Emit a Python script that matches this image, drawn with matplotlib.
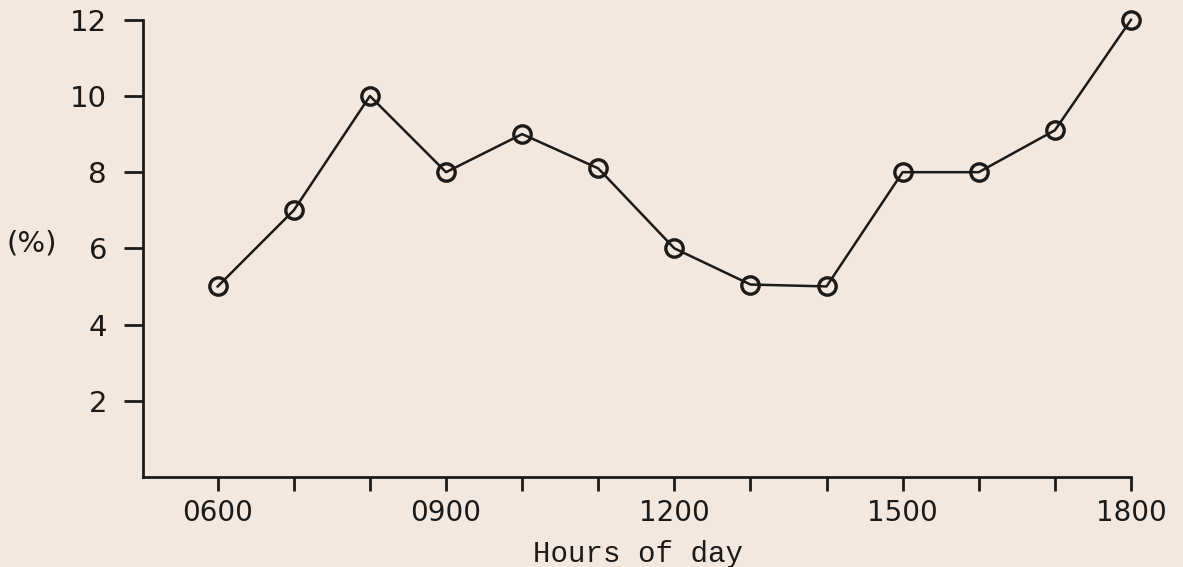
import numpy as np
import matplotlib
matplotlib.use("Agg")
import matplotlib.pyplot as plt

# hours of day and percentage values
hours = [6, 7, 8, 9, 10, 11, 12, 13, 14, 15, 16, 17, 18]
percent = [5, 7, 10, 8, 9, 8.1, 6, 5.05, 5, 8, 8, 9.1, 12]
x_labels = {6: "0600", 9: "0900", 12: "1200", 15: "1500", 18: "1800"}
y_ticks = [2, 4, 6, 8, 10, 12]

paper = "#f2e8e0"
ink = "#1c1a19"

fig = plt.figure(figsize=(11.83, 5.67), dpi=100, facecolor=paper)
ax = fig.add_axes([0.121, 0.159, 0.835, 0.806])
ax.set_facecolor(paper)

ax.plot(hours, percent, color=ink, linewidth=1.8, marker="o", markersize=12.5,
        markerfacecolor="none", markeredgecolor=ink, markeredgewidth=2.4,
        clip_on=False, zorder=3)

ax.set_xlim(5.02, 18)
ax.set_ylim(0, 12)

for side in ["top", "right"]:
    ax.spines[side].set_visible(False)
for side in ["left", "bottom"]:
    ax.spines[side].set_color(ink)
    ax.spines[side].set_linewidth(2.0)

ax.set_xticks(hours)
ax.set_xticklabels([x_labels.get(h, "") for h in hours])
ax.set_yticks(y_ticks)
ax.set_yticklabels([str(v) for v in y_ticks])

ax.tick_params(axis="x", direction="out", length=10, width=2.0, color=ink,
               pad=6, labelsize=20, labelcolor=ink)
ax.tick_params(axis="y", direction="out", length=14, width=2.0, color=ink,
               pad=12, labelsize=21, labelcolor=ink)
for lab in ax.get_xticklabels() + ax.get_yticklabels():
    lab.set_family("DejaVu Sans")
    lab.set_fontweight("normal")

fig.text(0.539, 0.008, "Hours of day", fontsize=21, family="Liberation Mono",
         color=ink, ha="center", va="baseline")
fig.text(0.027, 0.571, "(%)", fontsize=21, family="DejaVu Sans",
         color=ink, ha="center", va="center")

fig.savefig("out.png", dpi=100, facecolor=paper)
